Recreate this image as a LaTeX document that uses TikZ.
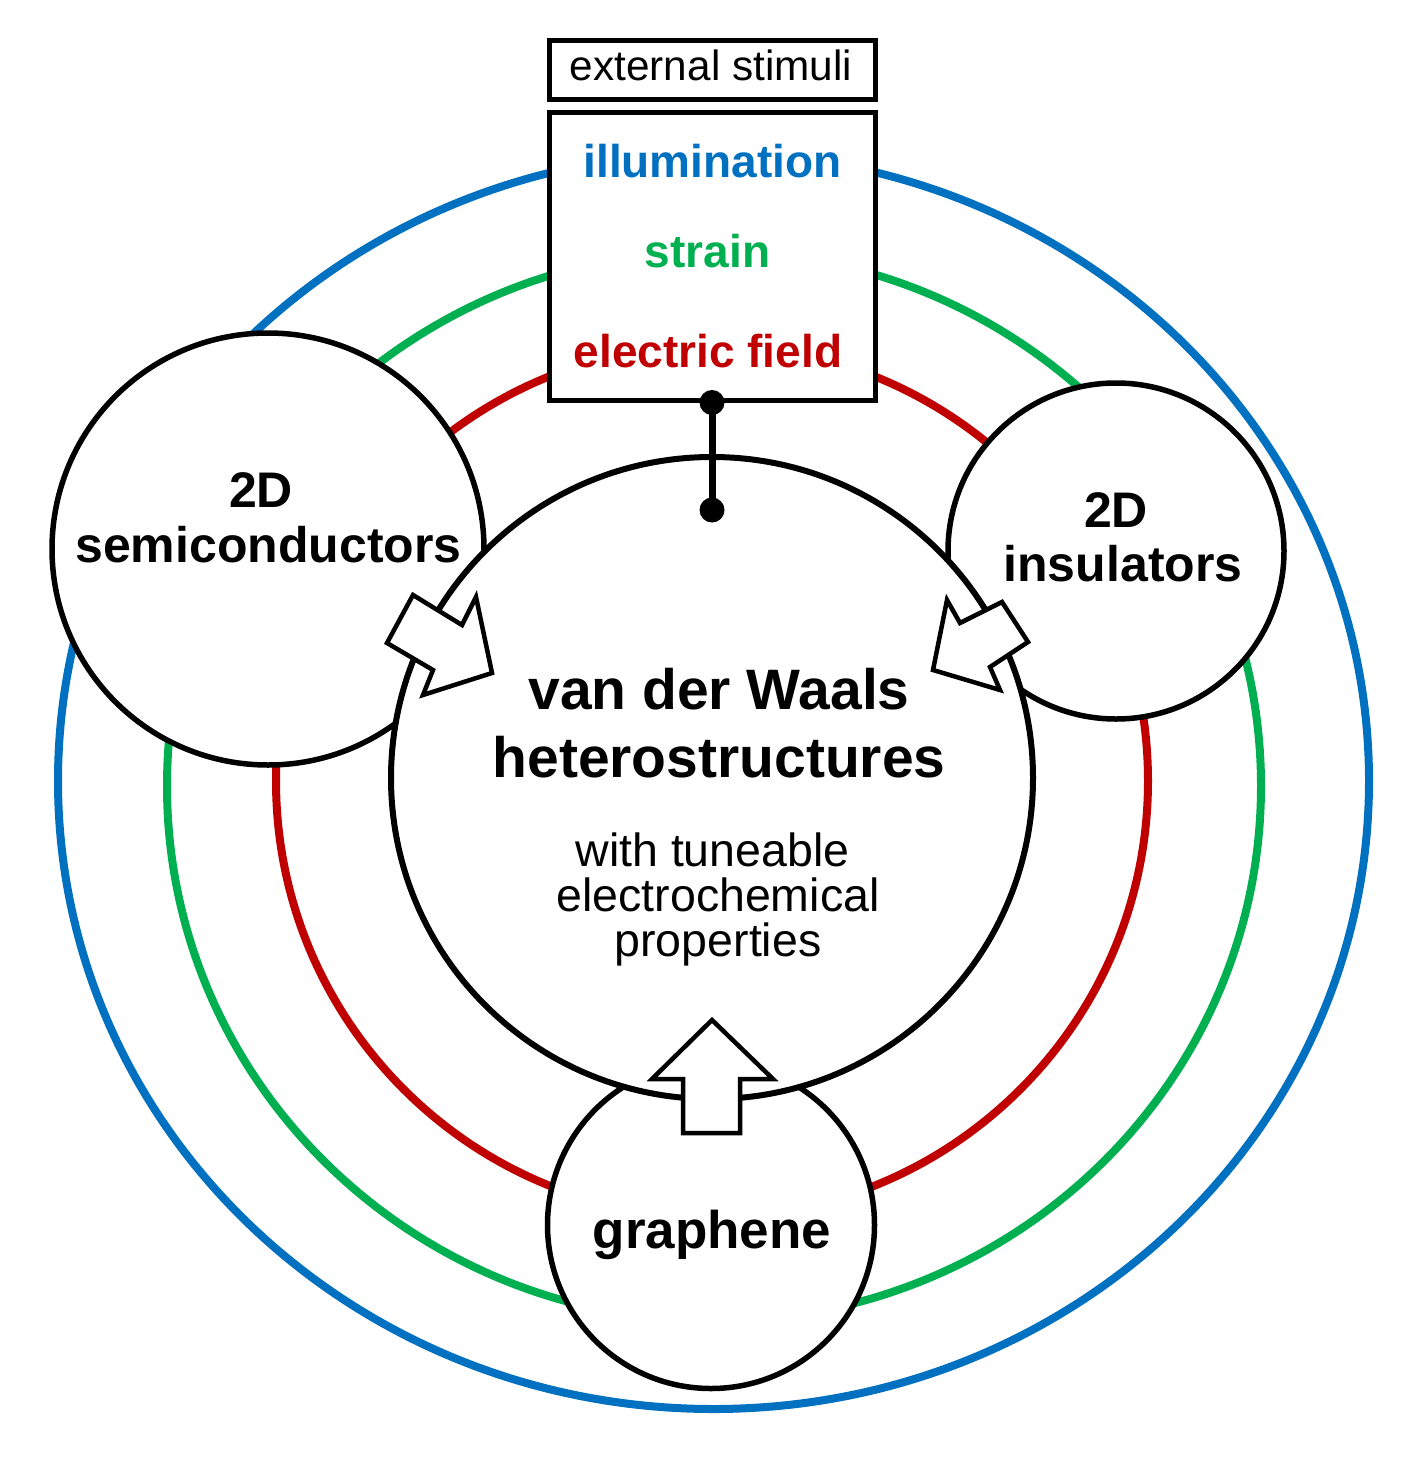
\documentclass[tikz,border=0pt]{standalone}
\usepackage{fontspec}
\setmainfont{Liberation Sans}
\definecolor{ringblue}{HTML}{0070C0}
\definecolor{ringgreen}{HTML}{00B050}
\definecolor{ringred}{HTML}{C00000}
\begin{document}
\begin{tikzpicture}[x=1pt,y=-1pt,
  ring/.style={line width=8pt},
  disc/.style={circle, draw=black, fill=white, line width=5.5pt, inner sep=0pt, outer sep=0pt},
  blockarrow/.style={draw=black, fill=white, line width=4.5pt, line join=miter},
  box/.style={draw=black, fill=white, line width=5pt, inner sep=0pt},
  dot/.style={circle, fill=black, inner sep=0pt, minimum size=25pt},
  lab/.style={anchor=base, inner sep=0pt, font=\fontsize{50pt}{54pt}\selectfont\bfseries},
  big/.style={anchor=base, inner sep=0pt, font=\fontsize{57pt}{70pt}\selectfont\bfseries},
  sub/.style={anchor=base, inner sep=0pt, font=\fontsize{46.5pt}{45pt}\selectfont},
  stim/.style={anchor=base, inner sep=0pt, font=\fontsize{46pt}{50pt}\selectfont\bfseries},
]
\useasboundingbox (0,0) rectangle (1417,1467);
\fill[white] (0,0) rectangle (1417,1467);

% rings
\draw[ring, ringblue] (713.5,781) ellipse [x radius=655.5pt, y radius=628pt];
\draw[ring, ringgreen] (714,786) ellipse [x radius=547pt, y radius=535pt];
\draw[ring, ringred] (712,781) circle [radius=436pt];

% outer material circles
\node[disc, minimum size=432pt] (semi) at (268,549) {};
\node[disc, minimum size=336pt] (ins) at (1116,551) {};
\node[disc, minimum size=327pt] (graph) at (711,1225) {};

% central circle
\node[disc, minimum size=642pt, line width=6pt] (vdw) at (712,778) {};

% block arrows
\draw[blockarrow] (387,643) -- (413,595) -- (462,625) -- (476,597) -- (492,673) -- (423,695) -- (433,670) -- cycle;
\draw[blockarrow] (947,600) -- (960,623) -- (1002,602) -- (1028,642) -- (990,667) -- (1000,690) -- (933,670) -- cycle;
\draw[blockarrow] (712,1020) -- (773,1079) -- (740,1079) -- (740,1133) -- (683,1133) -- (683,1079) -- (652,1079) -- cycle;

% boxes
\node[box, minimum width=326pt, minimum height=59pt] (ext) at (712,69.5) {};
\node[box, minimum width=326pt, minimum height=288pt] (stimbox) at (712,256) {};

% texts
\node[anchor=base, inner sep=0pt, font=\fontsize{42.3pt}{46pt}\selectfont] (exttxt) at (711,80) {external stimuli};
\node[stim, text=ringblue] (illum) at (712.5,177) {illumination};
\node[stim, text=ringgreen] (strain) at (707.5,267) {strain};
\node[stim, text=ringred] (efield) at (708,367) {electric field};

\node[lab] (semiA) at (261,507) {2D};
\node[lab] (semiB) at (268.5,562) {semiconductors};
\node[lab] (insA) at (1116,527) {2D};
\node[lab] (insB) at (1123,581) {insulators};
\node[anchor=base, inner sep=0pt, font=\fontsize{53pt}{56pt}\selectfont\bfseries] (graphtxt) at (712,1248) {graphene};

\node[big] (vdwA) at (719,709) {van der Waals};
\node[big] (vdwB) at (719,777) {heterostructures};
\node[sub] (subA) at (712.5,866) {with tuneable};
\node[sub] (subB) at (718,911) {electrochemical};
\node[sub] (subC) at (718,956) {properties};

% stimulus connector
\node[dot] (d1) at (stimbox.south) {};
\node[dot] (d2) at (712,510) {};
\draw[line width=7pt] (d1.center) -- (d2.center);
\end{tikzpicture}
\end{document}
